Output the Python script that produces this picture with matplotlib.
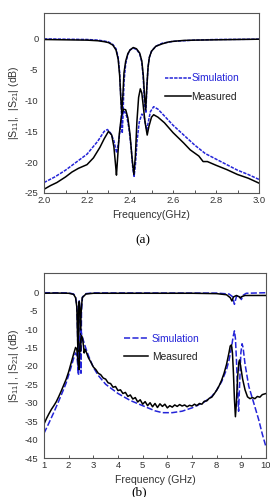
import matplotlib
matplotlib.use("Agg")
import matplotlib.pyplot as plt
from matplotlib.ticker import MultipleLocator

# ---------------- data: panel (a) ----------------
fa_sim_up = [2.00, 2.10, 2.20, 2.25, 2.28, 2.30, 2.32, 2.335, 2.345, 2.352, 2.358, 2.364, 2.368, 2.372,
             2.38, 2.39, 2.40, 2.415, 2.43, 2.445, 2.455, 2.462, 2.468, 2.474, 2.478, 2.484, 2.49, 2.50,
             2.52, 2.55, 2.60, 2.70, 2.80, 3.00]
sa_sim_up = [0.0, -0.05, -0.1, -0.2, -0.35, -0.5, -0.9, -1.6, -3.0, -5.5, -10.0, -15.3, -12.0, -7.0,
             -4.0, -2.5, -1.8, -1.5, -1.7, -2.4, -3.8, -6.5, -11.0, -12.0, -8.0, -4.5, -3.0, -2.0,
             -1.2, -0.7, -0.4, -0.2, -0.1, -0.05]

fa_meas_up = [2.00, 2.10, 2.20, 2.25, 2.28, 2.30, 2.32, 2.335, 2.345, 2.352, 2.357, 2.362, 2.367, 2.372,
              2.38, 2.39, 2.40, 2.415, 2.43, 2.445, 2.455, 2.462, 2.468, 2.473, 2.478, 2.484, 2.49, 2.50,
              2.52, 2.55, 2.58, 2.60, 2.65, 2.70, 2.80, 2.90, 3.00]
sa_meas_up = [-0.1, -0.15, -0.2, -0.3, -0.45, -0.6, -1.0, -1.8, -3.3, -6.0, -9.5, -12.0, -9.0, -5.5,
              -3.6, -2.4, -1.8, -1.4, -1.6, -2.3, -3.6, -6.0, -9.5, -11.5, -8.0, -4.6, -3.0, -2.0,
              -1.2, -0.8, -0.5, -0.4, -0.25, -0.2, -0.15, -0.1, -0.05]

fa_sim_lo = [2.00, 2.05, 2.10, 2.15, 2.20, 2.25, 2.28, 2.295, 2.31, 2.325, 2.338, 2.348, 2.358, 2.366,
             2.375, 2.385, 2.395, 2.405, 2.413, 2.419, 2.425, 2.433, 2.443, 2.455, 2.465, 2.472, 2.478,
             2.485, 2.495, 2.51, 2.53, 2.56, 2.60, 2.65, 2.70, 2.75, 2.80, 2.85, 2.90, 2.95, 3.00]
sa_sim_lo = [-23.3, -22.4, -21.3, -20.0, -18.7, -16.6, -15.0, -14.7, -15.3, -16.5, -18.5, -16.5, -13.5, -12.0,
             -11.8, -12.6, -14.5, -17.5, -21.0, -22.3, -20.5, -16.5, -13.5, -12.2, -12.5, -13.8, -14.8,
             -13.5, -11.8, -11.0, -11.4, -12.5, -14.0, -15.6, -17.2, -18.6, -19.5, -20.4, -21.3, -22.0, -22.8]

fa_meas_lo = [2.00, 2.03, 2.06, 2.10, 2.13, 2.16, 2.20, 2.23, 2.26, 2.28, 2.30, 2.315, 2.325, 2.333, 2.337,
              2.342, 2.35, 2.36, 2.37, 2.38, 2.39, 2.40, 2.41, 2.418, 2.425, 2.432, 2.44, 2.448, 2.455,
              2.462, 2.47, 2.48, 2.488, 2.50, 2.51, 2.53, 2.56, 2.60, 2.65, 2.68, 2.70, 2.72, 2.74, 2.76,
              2.80, 2.85, 2.90, 2.95, 3.00]
sa_meas_lo = [-24.4, -23.8, -23.3, -22.4, -21.6, -21.0, -20.4, -19.3, -17.6, -16.2, -15.0, -15.6, -17.5, -20.5, -22.1,
              -19.5, -15.5, -12.5, -11.4, -11.5, -12.8, -15.5, -19.5, -22.0, -19.0, -13.5, -9.5, -8.1, -8.8,
              -11.0, -13.5, -15.6, -14.2, -12.7, -12.3, -12.7, -13.6, -15.2, -16.9, -18.0, -18.5, -19.0, -19.9, -19.9,
              -20.5, -21.2, -22.0, -22.6, -23.4]

# ---------------- data: panel (b) ----------------
fb_sim_up = [1.0, 2.0, 2.2, 2.28, 2.33, 2.36, 2.39, 2.41, 2.43, 2.46, 2.48, 2.50, 2.52, 2.56, 2.7, 3.0,
             8.0, 8.5, 8.64, 8.72, 8.8, 8.9, 9.0, 9.08, 9.2, 10.0]
sb_sim_up = [-0.15, -0.2, -0.5, -1.3, -3.5, -11.0, -22.0, -4.0, -2.2, -4.5, -14.0, -22.0, -5.0, -1.3, -0.4, -0.2,
             -0.25, -0.5, -1.2, -3.3, -1.2, -0.8, -2.0, -0.8, -0.3, -0.15]

fb_meas_up = [1.0, 1.5, 2.0, 2.2, 2.28, 2.33, 2.36, 2.38, 2.40, 2.43, 2.46, 2.48, 2.50, 2.55, 2.7, 3.0,
              5.0, 7.0, 8.0, 8.4, 8.55, 8.62, 8.68, 8.8, 8.9, 8.96, 9.02, 9.15, 9.5, 10.0]
sb_meas_up = [-0.3, -0.25, -0.3, -0.6, -1.5, -4.0, -12.0, -18.0, -5.0, -2.5, -5.0, -16.0, -6.0, -1.5, -0.5, -0.3,
              -0.3, -0.3, -0.4, -0.7, -1.5, -2.4, -1.3, -0.9, -1.2, -1.6, -1.2, -0.9, -0.9, -0.9]

fb_sim_lo = [1.0, 1.2, 1.4, 1.6, 1.8, 1.9, 2.0, 2.1, 2.2, 2.28, 2.33, 2.37, 2.40, 2.43, 2.47, 2.50, 2.54,
             2.6, 2.7, 2.8, 2.9, 3.0, 3.2, 3.5, 4.0, 4.5, 5.0, 5.5, 5.8, 6.2, 6.6, 7.0, 7.5, 7.8, 8.0,
             8.2, 8.4, 8.5, 8.6, 8.67, 8.72, 8.76, 8.8, 8.85, 8.89, 8.93, 8.98, 9.03, 9.07, 9.15, 9.3,
             9.5, 9.7, 9.85, 10.0]
sb_sim_lo = [-38.3, -35.5, -32.6, -29.5, -26.3, -24.6, -22.5, -20.3, -18.0, -16.5, -17.0, -20.0, -22.5, -16.0,
             -11.5, -10.5, -11.8, -13.2, -15.3, -17.2, -18.8, -20.4, -22.6, -25.0, -27.5, -29.4, -30.8, -32.2,
             -32.7, -32.7, -32.3, -31.4, -29.8, -28.3, -26.6, -24.3, -21.0, -18.5, -15.0, -12.0, -10.5, -12.5,
             -18.0, -27.0, -32.3, -25.0, -16.5, -14.0, -15.0, -19.5, -25.5, -30.0, -34.5, -38.5, -42.0]

fb_meas_lo = [1.0, 1.1, 1.2, 1.3, 1.4, 1.5, 1.6, 1.7, 1.8, 1.9, 2.0, 2.1, 2.2, 2.28, 2.33, 2.38, 2.42, 2.46,
              2.52, 2.56, 2.6, 2.63, 2.66, 2.7, 2.8, 2.9, 3.0, 3.1, 3.2, 3.3, 3.4, 3.5, 3.6, 3.7, 3.8, 3.9,
              4.0, 4.1, 4.2, 4.3, 4.4, 4.5, 4.6, 4.7, 4.8, 4.9, 5.0, 5.1, 5.2, 5.3, 5.4, 5.5, 5.6, 5.7,
              5.8, 5.9, 6.0, 6.1, 6.2, 6.3, 6.4, 6.5, 6.6, 6.7, 6.8, 6.9, 7.0, 7.1, 7.2, 7.3, 7.4, 7.5,
              7.6, 7.7, 7.8, 7.9, 8.0, 8.1, 8.2, 8.3, 8.4, 8.5, 8.55, 8.6, 8.64, 8.68, 8.72, 8.76, 8.8,
              8.85, 8.9, 8.93, 8.97, 9.05, 9.15, 9.25, 9.35, 9.45, 9.55, 9.65, 9.75, 9.85, 9.95, 10.0]
sb_meas_lo = [-35.8, -34.3, -33.0, -31.8, -30.8, -29.7, -28.3, -26.8, -25.2, -23.6, -21.6, -19.2, -16.8, -15.0,
              -15.5, -19.0, -21.0, -14.0, -11.8, -12.5, -14.5, -16.5, -15.5, -16.0, -17.8, -19.0, -20.3, -21.0,
              -22.0, -22.4, -23.3, -23.6, -24.6, -24.8, -25.8, -25.6, -26.7, -26.5, -27.5, -27.2, -28.3, -27.9,
              -29.0, -28.6, -29.8, -29.2, -30.4, -29.7, -30.8, -30.0, -31.1, -30.2, -31.3, -30.3, -31.0, -30.4,
              -31.4, -30.8, -31.2, -30.6, -31.0, -30.5, -30.9, -30.6, -31.1, -30.7, -30.9, -30.4, -30.8, -30.2,
              -30.4, -29.6, -29.5, -28.8, -28.5, -27.6, -26.6, -25.4, -23.9, -22.0, -19.6, -16.4, -14.6, -14.3,
              -16.5, -22.0, -29.0, -33.8, -30.0, -23.0, -19.0, -18.4, -20.0, -23.5, -26.5, -28.4, -28.9, -28.6,
              -28.9, -28.3, -28.5, -27.8, -27.6, -27.5]

xticks_a = [2.0, 2.2, 2.4, 2.6, 2.8, 3.0]
yticks_a = [0, -5, -10, -15, -20, -25]
xticks_b = [1, 2, 3, 4, 5, 6, 7, 8, 9, 10]
yticks_b = [0, -5, -10, -15, -20, -25, -30, -35, -40, -45]

BLUE = "#2424d8"
SANS = ["Liberation Sans", "DejaVu Sans"]
SERIF = ["Liberation Serif", "DejaVu Serif"]
plt.rcParams["font.family"] = SANS
plt.rcParams["axes.unicode_minus"] = False
plt.rcParams["mathtext.fontset"] = "custom"
plt.rcParams["mathtext.rm"] = "Liberation Sans"
plt.rcParams["mathtext.it"] = "Liberation Sans"

fig = plt.figure(figsize=(2.7, 4.97), dpi=100)
W, H = 270, 497


def add_ax(l, t, r, b):
    return fig.add_axes([l / W, 1 - b / H, (r - l) / W, (b - t) / H])


def style(ax):
    for s in ax.spines.values():
        s.set_color("#555555")
        s.set_linewidth(0.8)
    ax.tick_params(axis="both", which="both", direction="in", labelsize=6.8,
                   labelcolor="#333333", color="#555555")
    ax.tick_params(axis="x", which="major", length=2.5, width=0.7, pad=2.5)
    ax.tick_params(axis="x", which="minor", length=2.0, width=0.7)
    ax.tick_params(axis="y", length=0, pad=4)


# ---- panel (a)
ax1 = add_ax(44, 13, 259, 193)
ax1.plot(fa_sim_up, sa_sim_up, color=BLUE, lw=1.1, ls=(0, (2.2, 0.8)))
ax1.plot(fa_meas_up, sa_meas_up, color="black", lw=1.1)
l1, = ax1.plot(fa_sim_lo, sa_sim_lo, color=BLUE, lw=1.1, ls=(0, (2.2, 0.8)), label="Simulation")
l2, = ax1.plot(fa_meas_lo, sa_meas_lo, color="black", lw=1.1, label="Measured")
ax1.set_xlim(2.0, 3.0)
ax1.set_ylim(-25, 4.2)
ax1.set_xticks(xticks_a)
ax1.set_xticklabels([f"{v:.1f}" for v in xticks_a])
ax1.xaxis.set_minor_locator(MultipleLocator(0.1))
ax1.set_yticks(yticks_a)
style(ax1)
ax1.set_xlabel("Frequency(GHz)", fontsize=7.6, color="#333333", labelpad=3)
ax1.set_ylabel(r"$|S_{11}|$,  $|S_{21}|$ (dB)", fontsize=7.6, color="#333333", labelpad=3)
leg1 = ax1.legend(handles=[l1, l2], loc="upper left", bbox_to_anchor=(0.565, 0.665), frameon=False,
                  fontsize=7.4, handlelength=2.5, handletextpad=0.0, labelspacing=0.85, borderpad=0,
                  borderaxespad=0)
leg1.get_texts()[0].set_color(BLUE)
leg1.get_texts()[1].set_color("#222222")

fig.text(143 / W, 1 - 240 / H, "(a)", fontsize=9.5, family=SERIF, ha="center", va="center")

# ---- panel (b)
ax2 = add_ax(44, 273, 266, 458)
ax2.plot(fb_sim_up, sb_sim_up, color=BLUE, lw=1.1, ls=(0, (4, 1.5)))
ax2.plot(fb_meas_up, sb_meas_up, color="black", lw=1.1)
m1, = ax2.plot(fb_sim_lo, sb_sim_lo, color=BLUE, lw=1.1, ls=(0, (4, 1.5)), label="Simulation")
m2, = ax2.plot(fb_meas_lo, sb_meas_lo, color="black", lw=1.1, label="Measured")
ax2.set_xlim(1, 10)
ax2.set_ylim(-45, 5.2)
ax2.set_xticks(xticks_b)
ax2.set_yticks(yticks_b)
style(ax2)
ax2.set_xlabel("Frequency (GHz)", fontsize=7.6, color="#333333", labelpad=3)
ax2.set_ylabel(r"$|S_{11}|$ , $|S_{21}|$ (dB)", fontsize=7.6, color="#333333", labelpad=3)
leg2 = ax2.legend(handles=[m1, m2], loc="upper left", bbox_to_anchor=(0.36, 0.67), frameon=False,
                  fontsize=7.4, handlelength=2.3, handletextpad=0.4, labelspacing=0.75, borderpad=0,
                  borderaxespad=0)
leg2.get_texts()[0].set_color(BLUE)
leg2.get_texts()[1].set_color("#222222")

fig.text(139 / W, 1 - 492 / H, "(b)", fontsize=9.5, family=SERIF, ha="center", va="center")

fig.savefig("out.png", dpi=100)
